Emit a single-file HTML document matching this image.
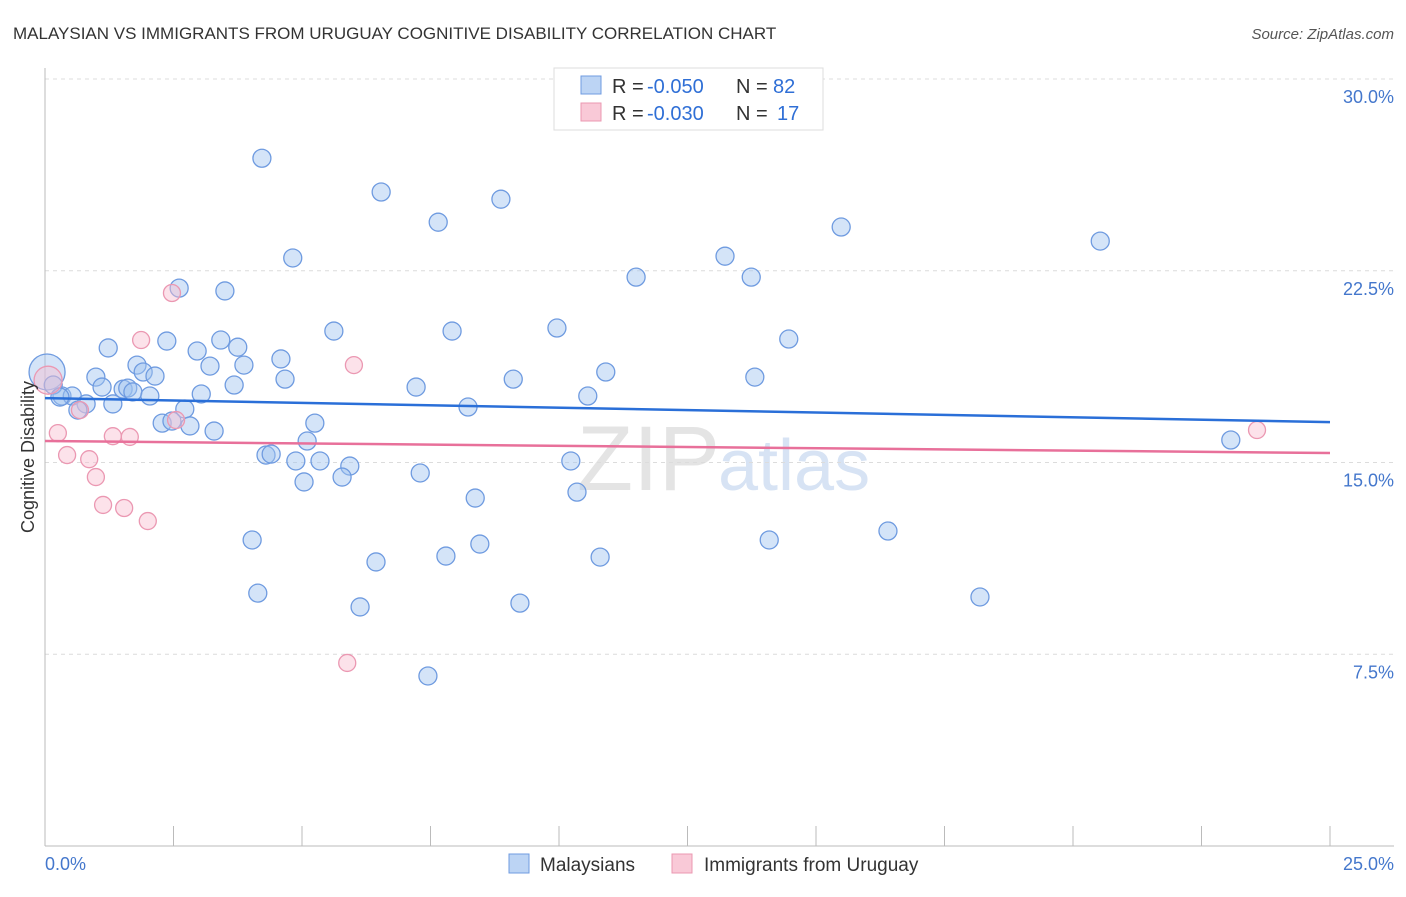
<!DOCTYPE html>
<html><head><meta charset="utf-8"><style>
body{margin:0;background:#fff;font-family:"Liberation Sans",sans-serif;}
svg text{font-family:"Liberation Sans",sans-serif;}
</style></head><body>
<svg id="chart" width="1406" height="892" xmlns="http://www.w3.org/2000/svg">
<text x="13" y="39" font-size="17" fill="#333">MALAYSIAN VS IMMIGRANTS FROM URUGUAY COGNITIVE DISABILITY CORRELATION CHART</text>
<text x="1394" y="39" font-size="15" fill="#555" text-anchor="end" font-style="italic">Source: ZipAtlas.com</text>
<text x="720" y="490" font-size="92" fill="#e4e4e4" text-anchor="end" font-family="Liberation Serif">ZIP</text>
<text x="718" y="490" font-size="72" fill="#d7e3f4">atlas</text>
<g id="grid"></g><g id="axes"></g><g id="marks"></g>
<text transform="translate(34,457) rotate(-90)" font-size="18" fill="#333" text-anchor="middle">Cognitive Disability</text>
<text x="45" y="870" font-size="18" fill="#4477cc">0.0%</text>
<text x="1394" y="870" font-size="18" fill="#4477cc" text-anchor="end">25.0%</text>
<g>
<rect x="554" y="68" width="269" height="62" fill="#fff" stroke="#ddd"/>
<rect x="581" y="76" width="20" height="18" fill="#bcd4f4" stroke="#6f9be0"/>
<rect x="581" y="103" width="20" height="18" fill="#f9c9d7" stroke="#eb98b2"/>
<text x="612" y="93" font-size="20" fill="#333">R =</text>
<text x="647" y="93" font-size="20" fill="#2f6fd6">-0.050</text>
<text x="736" y="93" font-size="20" fill="#333">N =</text>
<text x="773" y="93" font-size="20" fill="#2f6fd6">82</text>
<text x="612" y="120" font-size="20" fill="#333">R =</text>
<text x="647" y="120" font-size="20" fill="#2f6fd6">-0.030</text>
<text x="736" y="120" font-size="20" fill="#333">N =</text>
<text x="777" y="120" font-size="20" fill="#2f6fd6">17</text>
</g>
<g>
<rect x="509" y="854" width="20" height="19" fill="#bcd4f4" stroke="#6f9be0"/>
<text x="540" y="871" font-size="19" fill="#333">Malaysians</text>
<rect x="672" y="854" width="20" height="19" fill="#f9c9d7" stroke="#eb98b2"/>
<text x="704" y="871" font-size="19" fill="#333">Immigrants from Uruguay</text>
</g>
</svg>
<script>
const yTicks=[7.5,15,22.5,30];
const yTickLabels=["7.5%","15.0%","22.5%","30.0%"];
const xTicks=[2.5,5,7.5,10,12.5,15,17.5,20,22.5,25];
const blueX=[4.22,6.54,8.87,7.65,15.49,20.53,4.82,13.23,11.50,13.74,2.61,3.50,5.62,7.92,9.96,2.37,3.42,14.47,1.23,3.75,2.96,4.59,1.79,3.21,3.87,1.91,2.14,0.99,10.91,13.81,4.67,9.11,3.68,7.22,1.11,1.52,1.61,1.71,2.04,3.04,10.56,0.33,0.53,0.80,1.32,0.64,2.72,8.23,5.25,2.28,2.47,2.82,3.29,5.10,4.30,4.40,4.88,5.35,5.93,10.23,7.30,5.78,5.04,8.37,10.35,16.40,4.03,8.46,7.80,14.09,10.80,6.44,4.14,9.24,6.13,18.19,7.45,23.07,0.04,0.16,0.29];
const blueY=[26.9,25.58,25.30,24.40,24.21,23.66,23.0,23.07,22.25,22.25,21.82,21.71,20.14,20.14,20.26,19.75,19.79,19.83,19.48,19.51,19.36,19.05,18.81,18.77,18.81,18.54,18.38,18.34,18.54,18.34,18.26,18.26,18.03,17.95,17.95,17.87,17.91,17.76,17.60,17.68,17.60,17.60,17.60,17.29,17.29,17.05,17.09,17.17,16.54,16.54,16.62,16.43,16.23,15.84,15.29,15.33,15.06,15.06,14.86,15.06,14.59,14.43,14.24,13.61,13.84,12.32,11.97,11.81,11.34,11.97,11.30,11.11,9.89,9.50,9.35,9.74,6.65,15.88,18.54,18.03,17.56];
const blueR=blueX.map((v,i)=>i===78?18:9);
const pinkX=[2.47,1.87,6.01,0.25,1.32,1.65,0.43,0.86,0.99,1.13,1.54,2.0,5.88,23.58,0.06,0.68,2.55];
const pinkY=[21.63,19.79,18.81,16.15,16.03,16.0,15.29,15.13,14.43,13.34,13.22,12.71,7.16,16.27,18.22,17.05,16.66];
const pinkR=pinkX.map((v,i)=>i===14?14:8.5);
const blueTrend=[17.52,16.58];
const pinkTrend=[15.84,15.37];
const xs=v=>45+v/25*1285;
const ys=v=>846-v/30*767;
const NS="http://www.w3.org/2000/svg";
function mk(t,a,p){const e=document.createElementNS(NS,t);for(const k in a)e.setAttribute(k,a[k]);p.appendChild(e);return e;}
const grid=document.getElementById('grid'),axes=document.getElementById('axes'),marks=document.getElementById('marks');
yTicks.forEach((t,i)=>{
 const l=mk('line',{x1:45,x2:1394,y1:ys(t),y2:ys(t),stroke:'#dcdcdc','stroke-dasharray':'4,4'},grid);
 
 
 const tx=mk('text',{x:1394,y:ys(t)+24,'font-size':18,fill:'#4477cc','text-anchor':'end'},grid);
 tx.textContent=yTickLabels[i];
 
 
});
const ya=mk('line',{x1:45,x2:45,y1:68,y2:846,stroke:'#bbb'},axes);


const xa=mk('line',{x1:45,x2:1394,y1:846,y2:846,stroke:'#bbb'},axes);


xTicks.forEach(t=>{
 const l=mk('line',{x1:xs(t),x2:xs(t),y1:826,y2:846,stroke:'#bbb'},axes);
 
 
});
blueX.forEach((v,i)=>{
 const c=mk('circle',{cx:xs(v),cy:ys(blueY[i]),r:blueR[i],fill:'rgba(160,195,240,0.45)',stroke:'#6f9be0','stroke-width':1.3},marks);
 
 
});
pinkX.forEach((v,i)=>{
 const c=mk('circle',{cx:xs(v),cy:ys(pinkY[i]),r:pinkR[i],fill:'rgba(248,190,208,0.45)',stroke:'#eb98b2','stroke-width':1.3},marks);
 
 
});
const bt=mk('line',{x1:xs(0),x2:xs(25),y1:ys(blueTrend[0]),y2:ys(blueTrend[1]),stroke:'#2a6fd8','stroke-width':2.5},marks);


const pt=mk('line',{x1:xs(0),x2:xs(25),y1:ys(pinkTrend[0]),y2:ys(pinkTrend[1]),stroke:'#e8709a','stroke-width':2.5},marks);


</script>
</body></html>
